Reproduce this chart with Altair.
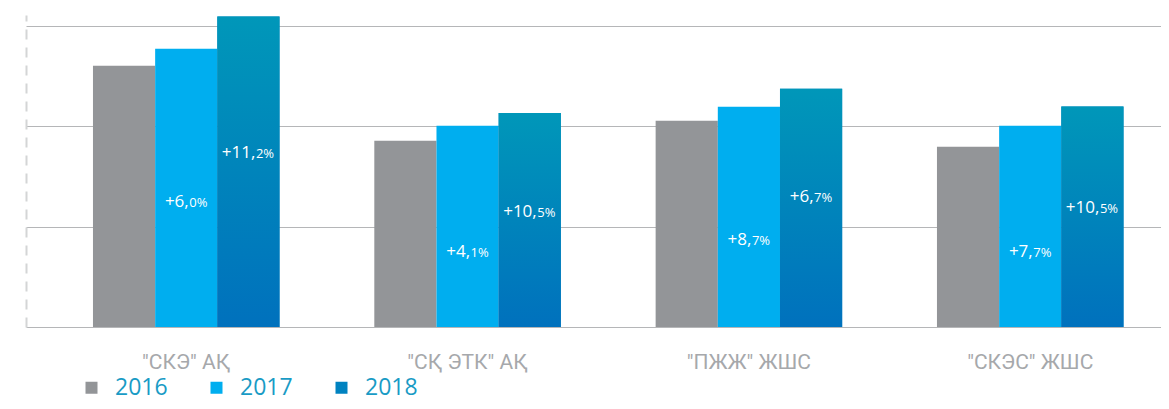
import altair as alt
import pandas as pd

# ---- data (grid step = 1 unit) ----
companies = ['"СКЭ" АҚ', '"СҚ ЭТК" АҚ', '"ПЖЖ" ЖШС', '"СКЭС" ЖШС']
years = ["2016", "2017", "2018"]
values_2016 = [2.60, 1.854, 2.053, 1.794]
values_2017 = [2.768, 2.003, 2.192, 2.003]
values_2018 = [3.09, 2.129, 2.371, 2.195]
growth_2017 = [6.0, 4.1, 8.7, 7.7]
growth_2018 = [11.2, 10.5, 6.7, 10.5]
label_y_2017 = [1.257, 0.760, 0.877, 0.753]
label_y_2018 = [1.745, 1.158, 1.307, 1.198]

bar_rows = []
for i, c in enumerate(companies):
    for y, vals in zip(years, [values_2016, values_2017, values_2018]):
        bar_rows.append({"company": c, "year": y, "value": vals[i]})
bars_df = pd.DataFrame(bar_rows)

lab_rows = []
for i, c in enumerate(companies):
    for y, g, ly in (("2017", growth_2017[i], label_y_2017[i]), ("2018", growth_2018[i], label_y_2018[i])):
        whole = int(g)
        dec = int(round(g * 10)) % 10
        lab_rows.append({"company": c, "year": y, "ly": ly,
                         "big": f"+{whole},", "small": f"{dec}%"})
labels_df = pd.DataFrame(lab_rows)

W, H = 1135, 312
YMAX = 3.105

x_enc = alt.X("company:N", sort=companies,
              scale=alt.Scale(paddingInner=0.337, paddingOuter=0.1857, align=0.641),
              axis=alt.Axis(title=None, domain=False, ticks=False, labelAngle=0,
                            labelFont="Roboto", labelFontSize=21, labelColor="#a6a8ab",
                            labelPadding=24))
xo_enc = alt.XOffset("year:N", sort=years, scale=alt.Scale(paddingInner=0, paddingOuter=0))

y_scale = alt.Scale(domain=[0, YMAX], nice=False)

bars = alt.Chart(bars_df).mark_bar().encode(
    x=x_enc,
    xOffset=xo_enc,
    y=alt.Y("value:Q", scale=y_scale,
            axis=alt.Axis(title=None, labels=False, ticks=False, values=[0, 1, 2, 3],
                          grid=True, gridColor="#b5b6b8", gridWidth=1,
                          domain=True, domainColor="#d4d5d6", domainWidth=2,
                          domainDash=[10, 8])),
    color=alt.Color("year:N", sort=years,
                    scale=alt.Scale(domain=years, range=["#939598", "#00aeef", "#0082c0"]),
                    legend=alt.Legend(title=None, orient="none", direction="horizontal",
                                      legendX=54, legendY=361, padding=0,
                                      symbolType="square", symbolSize=144,
                                      symbolStrokeWidth=0, symbolOpacity=1,
                                      labelFont="Open Sans", labelFontSize=23,
                                      labelColor="#199bc5", labelOffset=12,
                                      columnPadding=37)),
)

grad = alt.Gradient(gradient="linear",
                    stops=[alt.GradientStop(color="#0097b9", offset=0),
                           alt.GradientStop(color="#0071bd", offset=1)],
                    x1=0, x2=0, y1=0, y2=1)

bars_2018 = alt.Chart(bars_df).transform_filter(alt.datum.year == "2018").mark_bar(
    color=grad).encode(x=x_enc, xOffset=xo_enc, y=alt.Y("value:Q", scale=y_scale))


def label_layers(ndigits, split_dx):
    base = alt.Chart(labels_df).transform_filter(
        f"length(datum.big) == {ndigits + 2}").encode(
        x=x_enc, xOffset=xo_enc, y=alt.Y("ly:Q", scale=y_scale))
    big = base.mark_text(align="right", baseline="alphabetic", dx=split_dx, dy=6,
                         font="Open Sans", fontSize=17, color="white").encode(text="big:N")
    small = base.mark_text(align="left", baseline="alphabetic", dx=split_dx + 0.5, dy=6,
                           font="Open Sans", fontSize=13, color="white").encode(text="small:N")
    return [big, small]


layers = [bars, bars_2018] + label_layers(1, 2.5) + label_layers(2, 7)

chart = alt.layer(*layers).properties(
    width=W, height=H,
    autosize=alt.AutoSizeParams(type="none"),
    padding={"left": 18, "top": 7, "right": 0, "bottom": 74},
).configure_view(stroke=None)

chart.save("out.html", embed_options={"renderer": "svg", "actions": False})
